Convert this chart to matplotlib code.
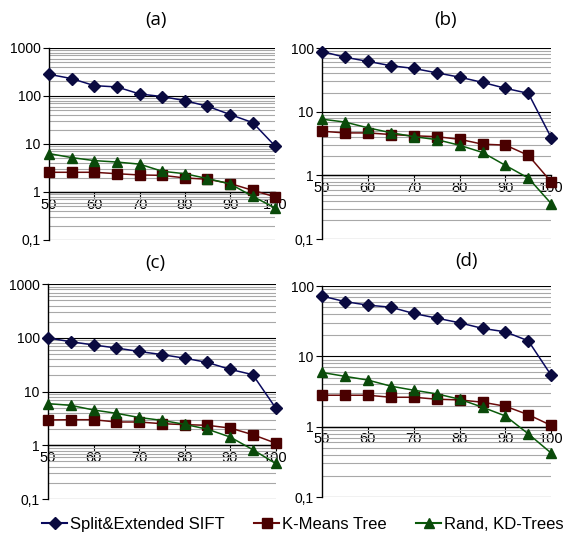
import matplotlib
matplotlib.use("Agg")
import matplotlib.pyplot as plt
from matplotlib.ticker import LogLocator, NullFormatter
from matplotlib.lines import Line2D

x = [50, 55, 60, 65, 70, 75, 80, 85, 90, 95, 100]

a_sift = [282, 230, 164, 154, 110, 97, 80, 61, 41, 27.8, 8.9]
a_kmeans = [2.57, 2.57, 2.57, 2.4, 2.26, 2.22, 1.96, 1.84, 1.5, 1.08, 0.79]
a_kd = [6.3, 5.2, 4.5, 4.2, 3.8, 2.7, 2.4, 1.9, 1.47, 0.81, 0.46]

b_sift = [88.5, 72, 62, 53, 48, 41, 35, 29, 23.4, 19.5, 3.9]
b_kmeans = [4.95, 4.66, 4.66, 4.4, 4.2, 4.07, 3.7, 3.1, 3.0, 2.07, 0.79]
b_kd = [7.66, 6.9, 5.6, 4.7, 4.07, 3.66, 2.98, 2.3, 1.44, 0.91, 0.36]

c_sift = [100, 85, 74, 65, 56, 49, 42, 35, 26, 20.7, 5.0]
c_kmeans = [2.97, 3.0, 3.0, 2.72, 2.72, 2.53, 2.43, 2.36, 2.1, 1.58, 1.1]
c_kd = [5.97, 5.56, 4.55, 3.95, 3.3, 2.92, 2.46, 2.0, 1.43, 0.83, 0.46]

d_sift = [72, 60, 53.5, 50, 40.7, 35, 30, 25, 22.3, 16.6, 5.35]
d_kmeans = [2.8, 2.8, 2.8, 2.62, 2.62, 2.46, 2.4, 2.23, 1.95, 1.48, 1.04]
d_kd = [5.9, 5.2, 4.6, 3.77, 3.3, 2.93, 2.46, 1.89, 1.42, 0.79, 0.42]

series_names = ["Split&Extended SIFT", "K-Means Tree", "Rand, KD-Trees"]
panel_titles = ["(a)", "(b)", "(c)", "(d)"]
x_ticks = [50, 60, 70, 80, 90, 100]
y_ticks = [0.1, 1, 10, 100, 1000]
y_labels = ["0,1", "1", "10", "100", "1000"]

line_colors = ["#0a0a5e", "#6a0a0a", "#0a5a0a"]
marker_colors = ["#0a0a40", "#4a0000", "#0a4a0a"]
markers = ["D", "s", "^"]
msizes = [6.5, 7, 7.5]

plt.rcParams["font.family"] = ["Liberation Sans", "DejaVu Sans"]

fig = plt.figure(figsize=(5.66, 5.41), dpi=100)

panels = [
    ([0.0866, 0.5564, 0.400, 0.355], (0.1, 1000), [a_sift, a_kmeans, a_kd], (0.275, 0.963)),
    ([0.569, 0.558, 0.405, 0.353], (0.1, 100), [b_sift, b_kmeans, b_kd], (0.788, 0.963)),
    ([0.0848, 0.0776, 0.402, 0.397], (0.1, 1000), [c_sift, c_kmeans, c_kd], (0.275, 0.513)),
    ([0.569, 0.0813, 0.405, 0.39], (0.1, 100), [d_sift, d_kmeans, d_kd], (0.825, 0.517)),
]

for i, (rect, ylim, data, tpos) in enumerate(panels):
    ax = fig.add_axes(rect)
    ax.set_yscale("log")
    ax.set_ylim(*ylim)
    ax.set_xlim(50, 100)
    ax.yaxis.set_minor_locator(LogLocator(base=10, subs=range(2, 10), numticks=20))
    ax.yaxis.set_minor_formatter(NullFormatter())
    ax.grid(True, which="major", axis="y", color="black", linewidth=0.8)
    ax.grid(True, which="minor", axis="y", color="#a8a8a8", linewidth=0.8)
    ax.set_axisbelow(True)
    yt = [v for v in y_ticks if v <= ylim[1]]
    ax.set_yticks(yt)
    ax.set_yticklabels(y_labels[:len(yt)])
    ax.tick_params(axis="y", which="major", length=4, width=0.8, labelsize=10, pad=2,
                   labelcolor="black")
    ax.tick_params(axis="y", which="minor", length=0)
    ax.set_xticks(x_ticks)
    ax.set_xticklabels([str(t) for t in x_ticks])
    ax.tick_params(axis="x", length=4, width=0.8, labelsize=10.5, pad=0, direction="out",
                   labelcolor="black")
    ax.spines["top"].set_visible(False)
    ax.spines["right"].set_visible(False)
    ax.spines["bottom"].set_position(("data", 1))
    ax.spines["bottom"].set_linewidth(1.0)
    ax.spines["left"].set_linewidth(1.0)
    for j, ys in enumerate(data):
        ax.plot(x, ys, color=line_colors[j], linewidth=1.1, marker=markers[j],
                markersize=msizes[j], markerfacecolor=marker_colors[j],
                markeredgecolor=marker_colors[j], clip_on=False, zorder=3 + j)
    fig.text(tpos[0], tpos[1], panel_titles[i], ha="center", va="center",
             fontsize=13.5, family=["Open Sans", "DejaVu Sans"])

handles = [Line2D([0], [0], color=line_colors[j], marker=markers[j], markersize=msizes[j],
                  markerfacecolor=marker_colors[j], markeredgecolor=marker_colors[j], linewidth=1.5)
           for j in range(3)]
fig.legend(handles, series_names, loc="center", bbox_to_anchor=(0.535, 0.03), ncol=3,
           frameon=False, fontsize=12, handlelength=1.5, handletextpad=0.15, columnspacing=1.8)

fig.savefig("out.png", dpi=100)
